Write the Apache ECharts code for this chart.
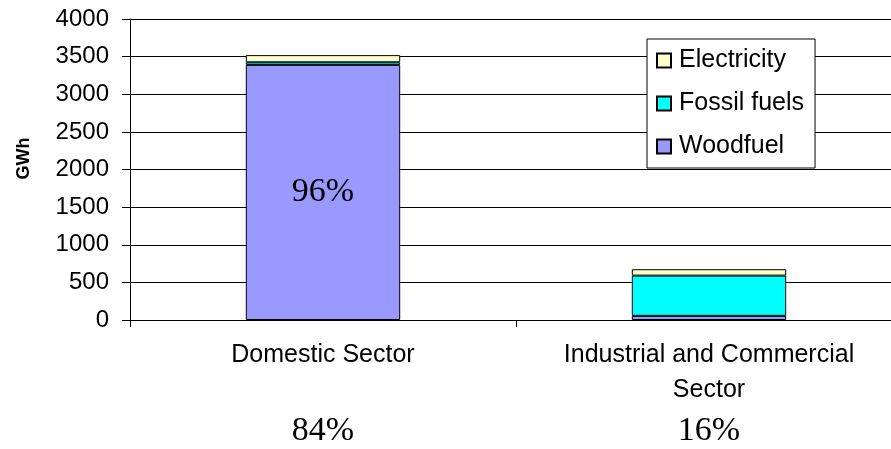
<!DOCTYPE html>
<html>
<head>
<meta charset="utf-8">
<script src="https://cdn.jsdelivr.net/npm/echarts@6/dist/echarts.min.js"></script>
<style>html,body{margin:0;padding:0;background:#fff}#c{width:891px;height:449px}</style>
</head>
<body>
<div id="c"></div>
<script>
var categories = ['Domestic Sector', 'Industrial and Commercial\nSector'];
var sectorShares = ['84%', '16%'];
var woodfuel = [3390, 55];
var fossilFuels = [35, 535];
var electricity = [95, 85];
var woodfuelInsideLabels = ['96%', ''];
var yTicks = { min: 0, max: 4000, interval: 500 };

var sans = "'Liberation Sans', Arial, sans-serif";
var serif = "'Liberation Serif', 'Times New Roman', serif";
var chart = echarts.init(document.getElementById('c'), null, { renderer: 'canvas' });
var barBorder = { borderColor: '#000', borderWidth: 1 };
chart.setOption({
  backgroundColor: '#fff',
  animation: false,
  grid: { left: 130, width: 772, top: 19, height: 301, containLabel: false, outerBoundsMode: 'none' },
  legend: {
    data: ['Electricity', 'Fossil fuels', 'Woodfuel'],
    orient: 'vertical',
    left: 647, top: 39,
    padding: [9, 11, 9, 9],
    itemWidth: 14, itemHeight: 14,
    itemGap: 18,
    icon: 'rect',
    borderColor: '#000', borderWidth: 1,
    backgroundColor: '#fff',
    textStyle: { fontFamily: sans, fontSize: 25, color: '#000', padding: [0, 0, 0, 3], lineHeight: 24 }
  },
  xAxis: [{
    type: 'category',
    data: categories,
    position: 'bottom',
    axisLine: { lineStyle: { color: '#000', width: 1 } },
    axisTick: { show: true, alignWithLabel: false, length: 7, lineStyle: { color: '#000' } },
    axisLabel: { color: '#000', fontFamily: sans, fontSize: 25, lineHeight: 35, margin: 18, interval: 0 }
  }, {
    type: 'category',
    data: categories,
    position: 'bottom',
    axisLine: { show: false },
    axisTick: { show: false },
    axisLabel: {
      color: '#000', fontFamily: serif, fontSize: 34, lineHeight: 34, margin: 94, interval: 0,
      formatter: function (v, i) { return sectorShares[i]; }
    }
  }],
  yAxis: {
    type: 'value',
    min: yTicks.min, max: yTicks.max, interval: yTicks.interval,
    name: 'GWh',
    nameLocation: 'middle',
    nameRotate: 90,
    nameGap: 97,
    nameTextStyle: { fontFamily: sans, fontWeight: 'bold', fontSize: 18, color: '#000', padding: [0, 0, 0, 22] },
    axisLine: { show: true, lineStyle: { color: '#000', width: 1 } },
    axisTick: { show: true, inside: false, length: 8, lineStyle: { color: '#000' } },
    axisLabel: { color: '#000', fontFamily: sans, fontSize: 24, margin: 21, formatter: function (v) { return String(v); } },
    splitLine: { show: true, lineStyle: { color: '#000', width: 1 } }
  },
  series: [{
    name: 'Woodfuel', type: 'bar', stack: 'total', data: woodfuel, barWidth: '40%',
    itemStyle: Object.assign({ color: '#9999FF' }, barBorder),
    label: {
      show: true, position: 'inside', color: '#000', fontFamily: serif, fontSize: 34,
      formatter: function (p) { return woodfuelInsideLabels[p.dataIndex]; }
    }
  }, {
    name: 'Fossil fuels', type: 'bar', stack: 'total', data: fossilFuels, barWidth: '40%',
    itemStyle: Object.assign({ color: '#00FFFF' }, barBorder)
  }, {
    name: 'Electricity', type: 'bar', stack: 'total', data: electricity, barWidth: '40%',
    itemStyle: Object.assign({ color: '#FFFFCC' }, barBorder)
  }]
});
</script>
</body>
</html>
